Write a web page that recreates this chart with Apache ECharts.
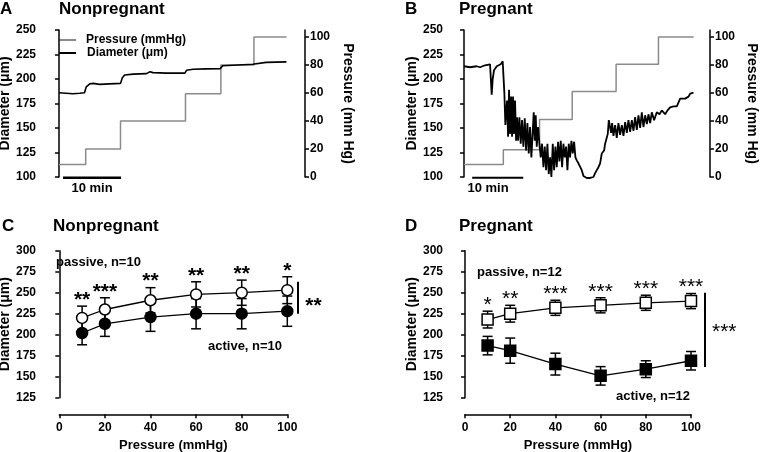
<!DOCTYPE html>
<html>
<head>
<meta charset="utf-8">
<script src="https://cdn.jsdelivr.net/npm/echarts@6/dist/echarts.min.js"></script>
<style>html,body{margin:0;padding:0;background:#fff}#c{width:760px;height:452px}</style>
</head>
<body>
<div id="c"></div>
<script>
// ---------- Panel A (Nonpregnant trace) ----------
const pressStepTimesA = [0, 4.6, 10.6, 21.8, 27.9, 33.6, 39.2];   // min
const pressLevelsA    = [9, 20, 40, 59.5, 80, 100];                // mmHg
const diamTimesA  = [0, 2.4, 3.6, 4.4, 4.6, 4.7, 5.3, 5.9, 7.0, 8.7, 10.6, 10.9, 11.3, 12.8, 15.1, 15.7, 16.2, 18.5, 21.7, 22.0, 23.1, 25.4, 27.8, 28.2, 30.0, 33.4, 33.7, 35.7, 39.2];
const diamValuesA = [186, 185, 185.5, 186, 187, 192, 195, 195.5, 194.5, 195, 195.5, 201, 204, 205, 205.5, 207.5, 206.5, 206, 206, 209, 210, 210.3, 210.5, 213.5, 214, 215, 216.5, 217, 217.5];
const scaleBarA = [0.7, 10.7];

// ---------- Panel B (Pregnant trace) ----------
const pressStepTimesB = [0, 7.7, 14.8, 21.2, 29.8, 38.1, 45.0];
const pressLevelsB    = [9, 19.5, 41, 61, 80.5, 100];
const diamTimesB = [0.00,1.18,2.48,3.14,4.12,5.10,5.29,5.42,5.62,5.88,6.41,7.19,7.58,7.71,7.91,8.10,8.24,8.43,8.63,8.82,9.02,9.22,9.41,9.61,9.80,10.00,10.20,10.39,10.59,10.85,11.11,11.37,11.63,11.90,12.16,12.42,12.68,12.94,13.20,13.46,13.66,13.86,14.05,14.25,14.51,14.77,15.03,15.29,15.56,15.82,16.08,16.34,16.60,16.86,17.12,17.39,17.65,17.91,18.17,18.43,18.69,18.95,19.22,19.48,19.74,20.00,20.26,20.52,20.78,21.05,21.31,21.57,21.83,22.09,22.42,22.75,23.07,23.40,24.05,24.71,25.36,25.69,26.01,26.34,26.67,26.99,27.19,27.45,27.65,27.97,28.17,28.37,28.63,28.82,29.02,29.28,29.61,29.93,30.26,30.59,30.92,31.24,31.57,31.90,32.22,32.55,32.88,33.20,33.53,33.86,34.18,34.51,34.84,35.16,35.49,35.82,36.14,36.47,36.80,37.25,37.78,38.30,38.76,39.41,39.87,40.39,41.05,41.70,42.03,42.35,42.68,43.33,43.99,44.31,44.97];
const diamValuesB = [213,212,213,212,214,215,215,184,200,209,213,215,218,220,185,153,165,178,141,189,144,182,141,182,144,178,137,161,137,161,134,158,131,160,127,155,124,151,120,146,166,137,163,131,151,134,120,134,110,131,107,134,103,120,100,134,107,131,110,136,116,137,110,134,120,131,107,134,120,137,124,136,120,117,114,112,107,101,99,99,100,104,107,110,114,124,126,127,134,136,144,158,160,145,155,142,153,140,155,143,153,142,156,145,158,146,158,147,161,148,163,150,166,151,163,154,164,155,166,158,166,164,168,164,168,171,172,172,173,180,178,180,182,185,186];
const scaleBarB = [1.6, 11.6];

// ---------- Panels C / D (mean ± SE) ----------
const pressureC   = [10, 20, 40, 60, 80, 100];
const passiveC    = [220, 230, 241, 248, 250, 253];
const passiveCErr = [14, 14, 15, 15, 15, 16];
const activeC     = [202, 213, 221, 225, 225, 228];
const activeCErr  = [14, 15, 17, 18, 18, 18];
const starsC      = ['**', '***', '**', '**', '**', '*'];
const overallC    = { lo: 225, hi: 263, stars: '**' };

const pressureD   = [10, 20, 40, 60, 80, 100];
const passiveD    = [218, 225, 232, 235, 238, 240];
const passiveDErr = [10, 10, 9, 9, 9, 9];
const activeD     = [187, 181, 165, 151, 159, 169];
const activeDErr  = [11, 15, 13, 11, 10, 11];
const starsD      = ['*', '**', '***', '***', '***', '***'];
const overallD    = { lo: 161.5, hi: 250, stars: '***' };

const diamTicks  = [100, 125, 150, 175, 200, 225, 250];
const pressTicks = [0, 20, 40, 60, 80, 100];
const xTicksCD   = [0, 20, 40, 60, 80, 100];

// ---------- helpers ----------
const FF = '"Liberation Sans", Arial, Helvetica, sans-serif';
const GRAY = '#8a8a8a';
function steps(times, levels) {
  const d = [];
  for (let i = 0; i < levels.length; i++) { d.push([times[i], levels[i]]); d.push([times[i + 1], levels[i]]); }
  return d;
}
function zip(a, b) { return a.map((v, i) => [v, b[i]]); }

const axLine = { show: true, lineStyle: { color: '#000', width: 1.5 } };
const axTick = { show: true, length: 4, lineStyle: { color: '#000', width: 1.5 } };
const lbl = { color: '#000', fontFamily: FF, fontWeight: 'bold', fontSize: 12 };
const nameStyle = { color: '#000', fontFamily: FF, fontWeight: 'bold', fontSize: 14 };

function diamAxis(grid, min, max, interval, gap, offset) {
  return { type: 'value', gridIndex: grid, min, max, interval, position: 'left', offset: offset || 0,
    name: 'Diameter (μm)', nameLocation: 'middle', nameGap: gap, nameRotate: 90, nameTextStyle: nameStyle,
    axisLine: axLine, axisTick: axTick, splitLine: { show: false },
    axisLabel: Object.assign({ margin: 5 }, lbl) };
}
function pressAxis(grid, gap) {
  return { type: 'value', gridIndex: grid, min: 0, max: 105, position: 'right',
    name: 'Pressure (mm Hg)', nameLocation: 'middle', nameGap: gap, nameRotate: -90, nameTextStyle: nameStyle,
    axisLine: axLine, axisTick: Object.assign({ customValues: pressTicks }, axTick), splitLine: { show: false },
    axisLabel: Object.assign({ margin: 5, customValues: pressTicks }, lbl) };
}
function xHidden(grid, min, max) {
  return { type: 'value', gridIndex: grid, min, max, show: false, splitLine: { show: false } };
}
function xPress(grid) {
  return { type: 'value', gridIndex: grid, min: 0, max: 100, interval: 20, offset: 16.6,
    name: 'Pressure (mmHg)', nameLocation: 'middle', nameGap: 25, nameTextStyle: Object.assign({}, nameStyle, { fontSize: 13 }),
    axisLine: axLine, axisTick: axTick, splitLine: { show: false },
    axisLabel: Object.assign({ margin: 7 }, lbl) };
}

function errSeries(xi, yi, xs, ys, es) {
  return { type: 'custom', xAxisIndex: xi, yAxisIndex: yi, z: 1, silent: true,
    data: xs.map((x, i) => [x, ys[i], es[i]]),
    renderItem: function (params, api) {
      const x = api.value(0), y = api.value(1), e = api.value(2);
      const t = api.coord([x, y + e]), b = api.coord([x, y - e]);
      const w = 5, st = { stroke: '#000', lineWidth: 1.5 };
      return { type: 'group', children: [
        { type: 'line', shape: { x1: t[0], y1: t[1], x2: b[0], y2: b[1] }, style: st },
        { type: 'line', shape: { x1: t[0] - w, y1: t[1], x2: t[0] + w, y2: t[1] }, style: st },
        { type: 'line', shape: { x1: b[0] - w, y1: b[1], x2: b[0] + w, y2: b[1] }, style: st }
      ] };
    } };
}
function starSeries(xi, yi, xs, ys, es, stars, weight) {
  return { type: 'custom', xAxisIndex: xi, yAxisIndex: yi, z: 4, silent: true, clip: false,
    data: xs.map((x, i) => [x, ys[i] + es[i], i]),
    renderItem: function (params, api) {
      const p = api.coord([api.value(0), api.value(1)]);
      return { type: 'text', x: p[0], y: p[1] - 6,
        style: { text: stars[api.value(2)], textAlign: 'center', textVerticalAlign: 'middle',
          font: weight + ' 21px ' + FF, fill: '#000' } };
    } };
}
function overallSeries(xi, yi, o, dx, tdx, tdy, weight) {
  return { type: 'custom', xAxisIndex: xi, yAxisIndex: yi, z: 4, silent: true, clip: false,
    data: [[100, o.lo, o.hi]],
    renderItem: function (params, api) {
      const a = api.coord([100, api.value(1)]), b = api.coord([100, api.value(2)]);
      const mid = (a[1] + b[1]) / 2;
      return { type: 'group', children: [
        { type: 'line', shape: { x1: a[0] + dx, y1: a[1], x2: b[0] + dx, y2: b[1] }, style: { stroke: '#000', lineWidth: 2 } },
        { type: 'text', x: a[0] + tdx, y: mid + tdy, style: { text: o.stars, textAlign: 'left', textVerticalAlign: 'middle', font: weight + ' 21px ' + FF, fill: '#000' } }
      ] };
    } };
}
function meanSeries(xi, yi, xs, ys, symbol, fill) {
  return { type: 'line', xAxisIndex: xi, yAxisIndex: yi, z: 3, data: zip(xs, ys),
    symbol, symbolSize: 11, showAllSymbol: true,
    lineStyle: { color: '#000', width: 1.3 },
    itemStyle: { color: fill, borderColor: '#000', borderWidth: 1.5, opacity: 1 },
    emphasis: { disabled: true } };
}

const chart = echarts.init(document.getElementById('c'), null, { renderer: 'canvas' });
const T = (text, x, y, size, align) => ({ type: 'text', x, y, silent: true,
  style: { text, font: 'bold ' + size + 'px ' + FF, fill: '#000', textAlign: align || 'left', textVerticalAlign: 'middle' } });

chart.setOption({
  animation: false,
  backgroundColor: '#fff',
  grid: [
    { left: 41, top: 30, width: 264, height: 147, outerBoundsMode: 'none' },
    { left: 448, top: 30, width: 262, height: 147, outerBoundsMode: 'none' },
    { left: 59.3, top: 250.7, width: 228, height: 147, outerBoundsMode: 'none' },
    { left: 465, top: 250.7, width: 226, height: 147, outerBoundsMode: 'none' }
  ],
  xAxis: [ xHidden(0, -3.1, 42.4), xHidden(1, -3.14, 48.2), xPress(2), xPress(3) ],
  yAxis: [
    diamAxis(0, 100, 250, 25, 25),
    pressAxis(0, 36),
    diamAxis(1, 100, 250, 25, 27),
    pressAxis(1, 35),
    diamAxis(2, 125, 300, 25, 24, 18.3),
    diamAxis(3, 125, 300, 25, 27, 17)
  ],
  series: [
    // A
    { type: 'line', xAxisIndex: 0, yAxisIndex: 1, data: steps(pressStepTimesA, pressLevelsA), symbol: 'none',
      lineStyle: { color: GRAY, width: 1.5 } },
    { type: 'line', xAxisIndex: 0, yAxisIndex: 0, data: zip(diamTimesA, diamValuesA), symbol: 'none',
      lineStyle: { color: '#000', width: 1.6 } },
    { type: 'line', xAxisIndex: 0, yAxisIndex: 0, data: [[scaleBarA[0], 99.3], [scaleBarA[1], 99.3]], symbol: 'none', clip: false,
      lineStyle: { color: '#000', width: 2.5 } },
    // B
    { type: 'line', xAxisIndex: 1, yAxisIndex: 3, data: steps(pressStepTimesB, pressLevelsB), symbol: 'none',
      lineStyle: { color: GRAY, width: 1.5 } },
    { type: 'line', xAxisIndex: 1, yAxisIndex: 2, data: zip(diamTimesB, diamValuesB), symbol: 'none', clip: false,
      lineStyle: { color: '#000', width: 1.8 } },
    { type: 'line', xAxisIndex: 1, yAxisIndex: 2, data: [[scaleBarB[0], 99.3], [scaleBarB[1], 99.3]], symbol: 'none', clip: false,
      lineStyle: { color: '#000', width: 2 } },
    // C
    errSeries(2, 4, pressureC, passiveC, passiveCErr),
    errSeries(2, 4, pressureC, activeC, activeCErr),
    meanSeries(2, 4, pressureC, passiveC, 'circle', '#fff'),
    meanSeries(2, 4, pressureC, activeC, 'circle', '#000'),
    starSeries(2, 4, pressureC, passiveC, passiveCErr, starsC, 'bold'),
    overallSeries(2, 4, overallC, 10.7, 18, 8, 'bold'),
    // D
    errSeries(3, 5, pressureD, passiveD, passiveDErr),
    errSeries(3, 5, pressureD, activeD, activeDErr),
    meanSeries(3, 5, pressureD, passiveD, 'rect', '#fff'),
    meanSeries(3, 5, pressureD, activeD, 'rect', '#000'),
    starSeries(3, 5, pressureD, passiveD, passiveDErr, starsD, 'normal'),
    overallSeries(3, 5, overallD, 14, 21, 2, 'normal')
  ],
  graphic: [
    T('A', 0, 9, 17), T('Nonpregnant', 59, 9, 17),
    T('B', 405, 9, 17), T('Pregnant', 459, 9, 17),
    T('C', 2, 226, 17), T('Nonpregnant', 53, 226, 17),
    T('D', 405, 226, 17), T('Pregnant', 459, 226, 17),
    // legend A
    { type: 'line', silent: true, shape: { x1: 59, y1: 40, x2: 76, y2: 40 }, style: { stroke: GRAY, lineWidth: 2 } },
    T('Pressure (mmHg)', 86, 40, 12),
    { type: 'line', silent: true, shape: { x1: 59, y1: 53, x2: 76, y2: 53 }, style: { stroke: '#000', lineWidth: 2 } },
    T('Diameter (μm)', 87, 53, 12),
    // scale bar labels
    T('10 min', 92, 188, 13, 'center'),
    T('10 min', 488, 188, 13, 'center'),
    // group labels
    T('passive, n=10', 56, 262, 13), T('active, n=10', 208, 346, 13),
    T('passive, n=12', 477, 272, 13), T('active, n=12', 616, 396, 13)
  ]
});
</script>
</body>
</html>
